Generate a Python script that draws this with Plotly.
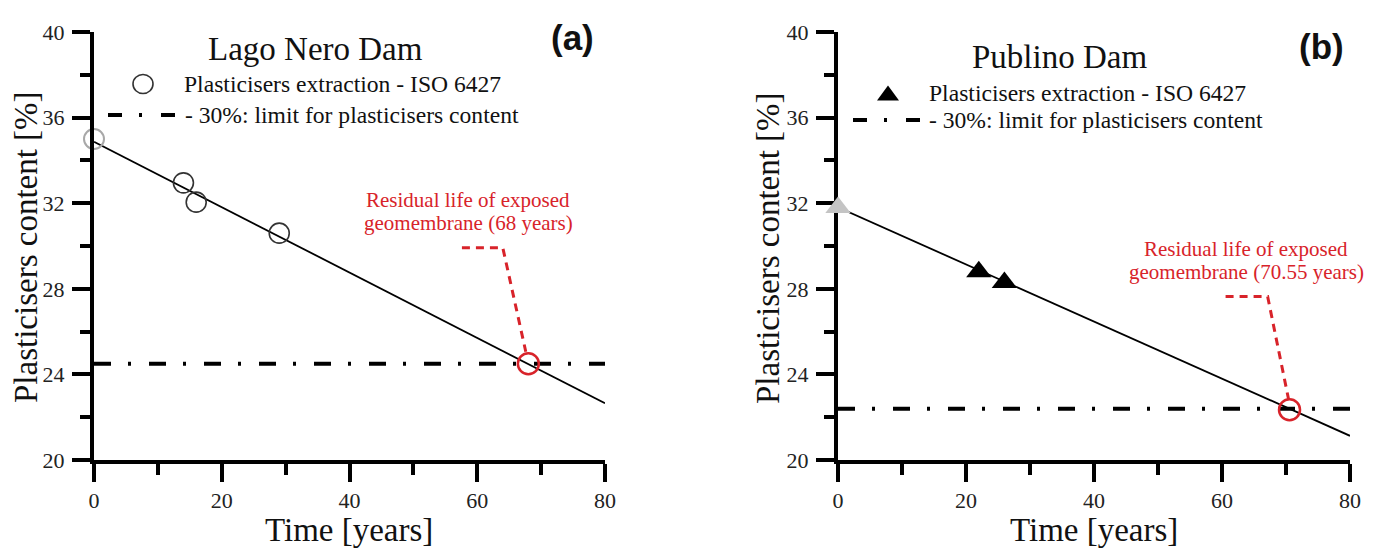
import plotly.graph_objects as go

W, H = 1379, 549          # picture size
OFF = 0
FW, FH = W, H

# ---------------- data: panel (a) Lago Nero Dam ----------------
a_time = [14, 16, 29]
a_content = [32.95, 32.05, 30.6]
a_initial_time = [0]
a_initial_content = [35.0]
a_fit_time = [0, 80]
a_fit_content = [34.87, 22.65]
a_limit_time = [0, 80]
a_limit_content = [24.5, 24.5]
a_life_time = [68]
a_life_content = [24.5]
a_leader_time = [57.6, 64.0, 67.6]
a_leader_content = [29.92, 29.92, 25.06]

# ---------------- data: panel (b) Publino Dam ----------------
b_time = [22, 26]
b_content = [28.8, 28.3]
b_initial_time = [0]
b_initial_content = [31.8]
b_fit_time = [0, 80]
b_fit_content = [31.81, 21.13]
b_limit_time = [0, 80]
b_limit_content = [22.4, 22.4]
b_life_time = [70.55]
b_life_content = [22.35]
b_leader_time = [60.56, 67.13, 70.4]
b_leader_content = [27.64, 27.64, 22.84]

x_ticks = [0, 20, 40, 60, 80]
y_ticks = [20, 24, 28, 32, 36, 40]

X_TITLE = "Time [years]"
Y_TITLE = "Plasticisers content [%]"

SERIF = "Liberation Serif"
RED = "#d8232a"
DASHDOT = "17px,17px,3px,18px"


def px_x(p):
    return (p - OFF) / FW


def px_y(p):
    return 1 - (p - OFF) / FH


fig = go.Figure()


def add_panel(xa, ya, t, c, t0, c0, ft, fc, lt, lc, rt, rc, dt, dc, symbol, color0, filled):
    fig.add_trace(go.Scatter(x=lt, y=lc, mode="lines", xaxis=xa, yaxis=ya,
                             line=dict(color="black", width=4, dash=DASHDOT),
                             showlegend=False, hoverinfo="skip"))
    fig.add_trace(go.Scatter(x=ft, y=fc, mode="lines", xaxis=xa, yaxis=ya,
                             line=dict(color="black", width=1.8),
                             showlegend=False, hoverinfo="skip"))
    fig.add_trace(go.Scatter(x=dt, y=dc, mode="lines", xaxis=xa, yaxis=ya,
                             line=dict(color=RED, width=3, dash="8px,6px"),
                             showlegend=False, hoverinfo="skip"))
    if filled:
        mk0 = dict(symbol=symbol, size=22, color=color0, line=dict(width=0))
        mk = dict(symbol=symbol, size=22, color="black", line=dict(width=0))
    else:
        mk0 = dict(symbol="circle-open", size=20, color=color0, line=dict(color=color0, width=2))
        mk = dict(symbol="circle-open", size=20, color="#333", line=dict(color="#333", width=1.6))
    fig.add_trace(go.Scatter(x=t0, y=c0, mode="markers", xaxis=xa, yaxis=ya,
                             marker=mk0, cliponaxis=False, showlegend=False))
    fig.add_trace(go.Scatter(x=t, y=c, mode="markers", xaxis=xa, yaxis=ya,
                             marker=mk, cliponaxis=False, showlegend=False))
    fig.add_trace(go.Scatter(x=rt, y=rc, mode="markers", xaxis=xa, yaxis=ya,
                             marker=dict(symbol="circle-open", size=21, color=RED,
                                         line=dict(color=RED, width=2.5)),
                             cliponaxis=False, showlegend=False))


add_panel("x", "y", a_time, a_content, a_initial_time, a_initial_content,
          a_fit_time, a_fit_content, a_limit_time, a_limit_content,
          a_life_time, a_life_content, a_leader_time, a_leader_content,
          "circle-open", "#a8a8a8", False)
add_panel("x2", "y2", b_time, b_content, b_initial_time, b_initial_content,
          b_fit_time, b_fit_content, b_limit_time, b_limit_content,
          b_life_time, b_life_content, b_leader_time, b_leader_content,
          "triangle-up", "#c4c4c4", True)


def xaxis_cfg(domain, anchor, layer="above traces"):
    return dict(domain=domain, anchor=anchor, range=[0, 80], tickmode="array",
                tickvals=x_ticks, ticktext=[str(v) for v in x_ticks],
                showline=True, linewidth=4, linecolor="black", showgrid=False, zeroline=False,
                ticks="outside", ticklen=18, tickwidth=3.5, tickcolor="black",
                minor=dict(ticks="outside", ticklen=11, tickwidth=3.5, tickcolor="black",
                           tickvals=[10, 30, 50, 70]),
                tickfont=dict(family=SERIF, size=22, color="#222"),
                ticklabelstandoff=0, layer=layer,
                automargin=False, fixedrange=True)


def yaxis_cfg(domain, anchor, layer="above traces"):
    return dict(domain=domain, anchor=anchor, range=[20, 40], tickmode="array",
                tickvals=y_ticks, ticktext=[str(v) for v in y_ticks],
                showline=True, linewidth=4, linecolor="black", showgrid=False, zeroline=False,
                ticks="outside", ticklen=18, tickwidth=3.5, tickcolor="black",
                minor=dict(ticks="outside", ticklen=10, tickwidth=3.5, tickcolor="black",
                           tickvals=[22, 26, 30, 34, 38]),
                tickfont=dict(family=SERIF, size=22, color="#222"),
                ticklabelstandoff=3, layer=layer,
                automargin=False, fixedrange=True)


ydom = [1 - (460 - OFF) / FH, 1 - (32 - OFF) / FH]
fig.update_layout(
    width=FW, height=FH, autosize=False,
    margin=dict(l=0, r=0, t=0, b=0),
    paper_bgcolor="white", plot_bgcolor="white",
    showlegend=False,
    xaxis=xaxis_cfg([px_x(94), px_x(605)], "y"),
    yaxis=yaxis_cfg(ydom, "x"),
    xaxis2=xaxis_cfg([px_x(838), px_x(1350)], "y2", "below traces"),
    yaxis2=yaxis_cfg(ydom, "x2", "below traces"),
)

annotations = []
shapes = []


def txt(text, x, y, size, color="#111", family=SERIF, xanchor="center", xref="paper", yref="paper",
        angle=0):
    annotations.append(dict(text=text, x=x, y=y, xref=xref, yref=yref, showarrow=False,
                            xanchor=xanchor, yanchor="middle", textangle=angle,
                            font=dict(family=family, size=size, color=color)))


# axis titles
txt(X_TITLE, px_x(349), px_y(530), 33)
txt(X_TITLE, px_x(1094), px_y(530), 33)
txt(Y_TITLE, px_x(26), px_y(247), 33, angle=-90)
txt(Y_TITLE, px_x(768), px_y(248), 33, angle=-90)

# titles
txt("Lago Nero Dam", px_x(315), px_y(49.5), 33)
txt("Publino Dam", px_x(1059), px_y(56.5), 33)
txt("<b>(a)</b>", px_x(572), px_y(37), 35, color="#111", family="Liberation Sans")
txt("<b>(b)</b>", px_x(1321), px_y(46), 35, color="#111", family="Liberation Sans")

# legend texts
LEG = "Plasticisers extraction - ISO 6427"
LIM = "- 30%: limit for plasticisers content"
txt(LEG, px_x(182), px_y(84), 23.6, xanchor="left")
txt(LIM, px_x(183), px_y(115), 23.6, xanchor="left")
txt(LEG, px_x(927), px_y(93), 23.6, xanchor="left")
txt(LIM, px_x(927), px_y(120), 23.6, xanchor="left")

# red notes
txt("Residual life of exposed", 58.6, 32.15, 21, color=RED, xref="x", yref="y")
txt("geomembrane (68 years)", 58.6, 31.07, 21, color=RED, xref="x", yref="y")
txt("Residual life of exposed", 63.8, 29.88, 21, color=RED, xref="x2", yref="y2")
txt("geomembrane (70.55 years)", 63.8, 28.77, 21, color=RED, xref="x2", yref="y2")

# legend samples
shapes.append(dict(type="circle", xref="paper", yref="paper", xsizemode="pixel", ysizemode="pixel",
                   xanchor=px_x(143), yanchor=px_y(84), x0=-10, x1=10, y0=-9.5, y1=9.5,
                   line=dict(color="#333", width=1.6)))
shapes.append(dict(type="path", xref="paper", yref="paper", xsizemode="pixel", ysizemode="pixel",
                   xanchor=px_x(888), yanchor=px_y(93), path="M-11,-7.5 L11,-7.5 L0,7.5 Z",
                   fillcolor="black", line=dict(width=0)))
for x0, x1, yy in [(108, 179, 115), (853, 923, 120)]:
    shapes.append(dict(type="line", xref="paper", yref="paper",
                       x0=px_x(x0), x1=px_x(x1), y0=px_y(yy), y1=px_y(yy),
                       line=dict(color="black", width=4, dash="14px,17px,3px,19px")))

fig.update_layout(annotations=annotations, shapes=shapes)

fig.write_html("out.html", config={"displayModeBar": False},
               post_script="document.body.style.margin='0px';document.body.style.overflow='hidden';")
